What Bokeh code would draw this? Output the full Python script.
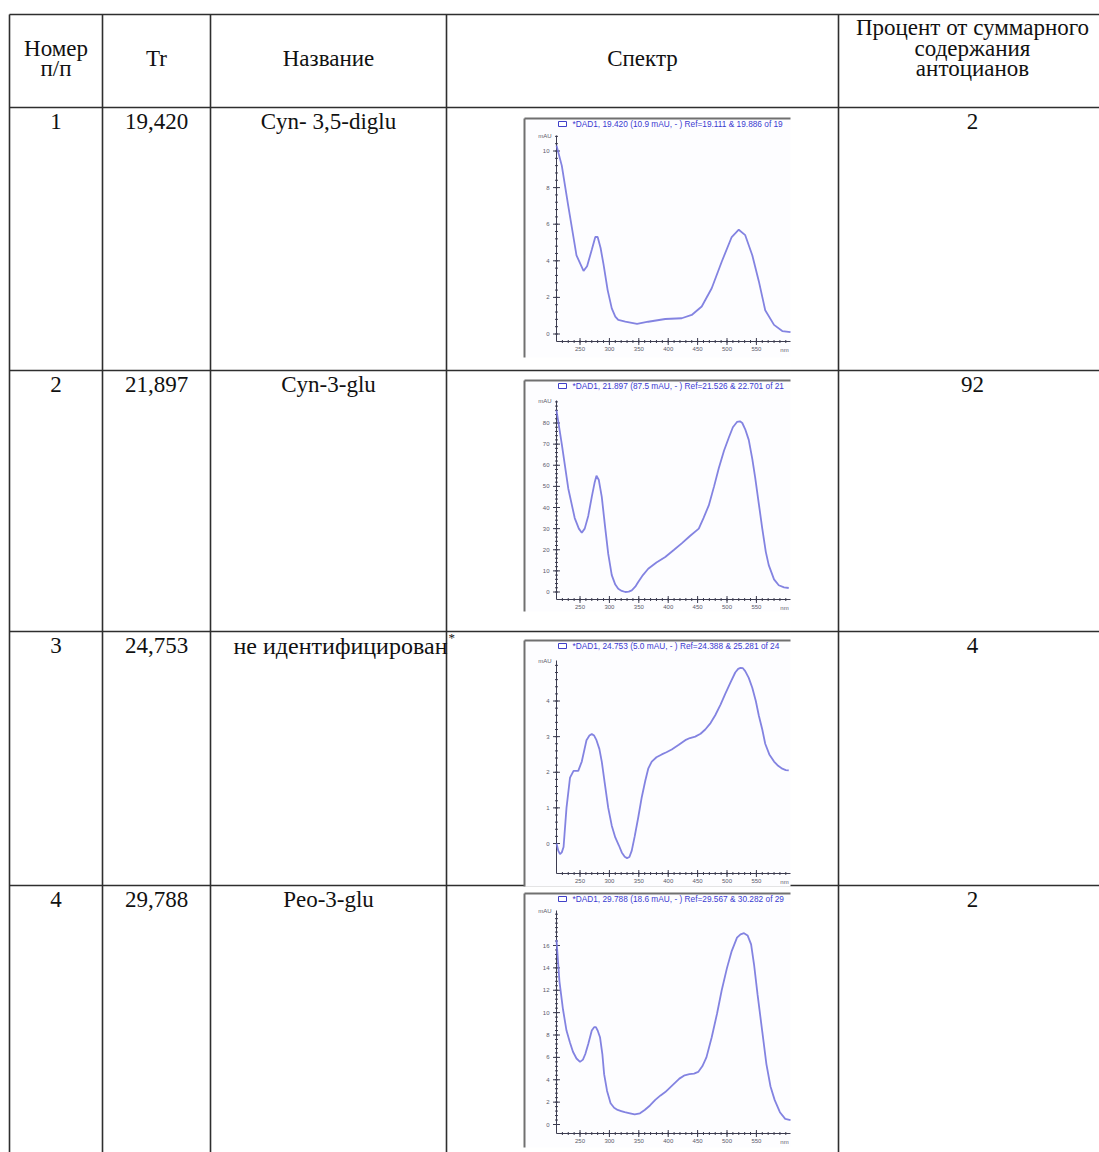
import numpy as np
from bokeh.plotting import figure
from bokeh.models import Range1d
from bokeh.embed import file_html
from bokeh.resources import INLINE
from bokeh.core.properties import value

# ---------------- table content ----------------
headers = ["Номер\nп/п", "Tr", "Название", "Спектр",
           "Процент от суммарного\nсодержания\nантоцианов"]
row_nums = ["1", "2", "3", "4"]
retention = ["19,420", "21,897", "24,753", "29,788"]
names = ["Cyn- 3,5-diglu", "Cyn-3-glu", "не идентифицирован", "Peo-3-glu"]
name_marks = ["", "", "*", ""]
percent = ["2", "92", "4", "2"]

# ---------------- spectra (wavelength nm, absorbance mAU) ----------------
wl1 = [210, 219, 230, 244, 256, 262, 270, 276, 280, 285, 290, 297, 304, 310, 315, 327, 347, 366,
       395, 423, 440, 457, 474, 491, 508, 520, 531, 543, 554, 565, 580, 594, 608]
ab1 = [10.3, 9.2, 7.0, 4.3, 3.45, 3.7, 4.6, 5.3, 5.3, 4.7, 3.8, 2.4, 1.4, 0.95, 0.77, 0.67, 0.55, 0.67,
       0.82, 0.86, 1.04, 1.5, 2.5, 3.95, 5.3, 5.7, 5.4, 4.3, 2.9, 1.3, 0.5, 0.16, 0.1]
yt1 = [0, 2, 4, 6, 8, 10]

wl2 = [210, 219, 230, 241, 248, 253, 258, 264, 270, 275, 278, 282, 287, 293, 298, 304, 310, 315,
       321, 327, 333, 338, 344, 349, 357, 366, 380, 395, 410, 423, 437, 452, 460, 469, 478, 486,
       495, 503, 510, 517, 522, 526, 531, 537, 543, 548, 554, 560, 566, 571, 580, 588, 597, 605]
ab2 = [86, 70, 49, 35, 30, 28, 30, 36, 45, 52, 55, 53, 45, 30, 18, 8, 3.5, 1.5,
       0.5, 0, 0.2, 0.8, 2.5, 4.7, 8, 11, 14, 16.6, 20, 23, 26.5, 30, 35, 41, 50, 58.6,
       67, 73, 78, 80.5, 80.8, 80, 77, 72, 63, 54, 42, 30, 19, 12.7, 6, 3.2, 2.2, 1.9]
yt2 = [0, 10, 20, 30, 40, 50, 60, 70, 80]

wl3 = [210, 213, 216, 219, 222, 227, 233, 239, 247, 253, 261, 266, 270, 274, 278, 283, 287, 292,
       298, 304, 310, 316, 321, 326, 330, 334, 338, 343, 349, 355, 361, 366, 372, 380, 389, 397,
       406, 418, 429, 437, 446, 455, 463, 472, 480, 489, 497, 506, 514, 519, 523, 527, 531, 537,
       543, 549, 554, 560, 565, 572, 580, 587, 594, 600, 605]
ab3 = [0.0, -0.2, -0.3, -0.25, -0.1, 1.0, 1.85, 2.04, 2.04, 2.3, 2.9, 3.03, 3.07, 3.03, 2.9, 2.65, 2.3, 1.7,
       1.0, 0.5, 0.17, -0.05, -0.25, -0.37, -0.41, -0.38, -0.2, 0.2, 0.73, 1.3, 1.76, 2.1, 2.3, 2.42, 2.5, 2.56,
       2.64, 2.77, 2.9, 2.96, 3.0, 3.08, 3.2, 3.38, 3.6, 3.9, 4.2, 4.52, 4.8, 4.9, 4.93, 4.92, 4.84, 4.65,
       4.37, 4.0, 3.6, 3.2, 2.8, 2.5, 2.3, 2.18, 2.1, 2.06, 2.05]
yt3 = [0, 1, 2, 3, 4]

wl4 = [210, 212, 215, 221, 227, 233, 238, 244, 250, 255, 259, 264, 270, 274, 277, 280, 284, 288,
       291, 296, 302, 308, 314, 320, 326, 335, 343, 352, 360, 369, 378, 387, 395, 407, 419, 428,
       436, 444, 451, 458, 465, 474, 483, 491, 500, 508, 517, 523, 529, 535, 541, 546, 552, 560,
       567, 574, 581, 590, 599, 608]
ab4 = [16.5, 15, 12.8, 10.3, 8.4, 7.3, 6.5, 5.9, 5.6, 5.8, 6.3, 7.2, 8.4, 8.7, 8.7, 8.4, 7.8, 6.3,
       4.5, 3.0, 1.9, 1.5, 1.3, 1.2, 1.1, 1.0, 0.9, 1.0, 1.3, 1.7, 2.2, 2.6, 2.9, 3.5, 4.1, 4.4,
       4.5, 4.55, 4.7, 5.2, 6.0, 7.8, 9.9, 12.0, 14.0, 15.5, 16.7, 17.0, 17.1, 16.9, 16.1, 14.3, 11.6, 8.3,
       5.4, 3.4, 2.2, 1.1, 0.5, 0.4]
yt4 = [0, 2, 4, 6, 8, 10, 12, 14, 16]

xt = [250, 300, 350, 400, 450, 500, 550]
spec_titles = ["*DAD1, 19.420 (10.9 mAU, - ) Ref=19.111 & 19.886 of 19",
               "*DAD1, 21.897 (87.5 mAU, - ) Ref=21.526 & 22.701 of 21",
               "*DAD1, 24.753 (5.0 mAU, - ) Ref=24.388 & 25.281 of 24",
               "*DAD1, 29.788 (18.6 mAU, - ) Ref=29.567 & 30.282 of 29"]

spectra = [(wl1, ab1, yt1), (wl2, ab2, yt2), (wl3, ab3, yt3), (wl4, ab4, yt4)]

# ---------------- layout (pixels) ----------------
W, H = 1099, 1152
col_x = [9, 102, 210, 446, 838]
row_y = [14, 107, 370, 631, 885]
col_c = [(col_x[i] + col_x[i + 1]) / 2 for i in range(4)] + [972]

# per spectrum picture: frame (top, bottom), axis extent (top, bottom), pixel rows of first/last tick
frames = [(118, 357), (380, 611), (640, 886), (893, 1147)]
axis_px = [(135, 341), (400, 599), (660, 873), (910, 1133)]
tick_px = [(333.5, 150.5), (591.5, 422.5), (843.0, 700.5), (1124.0, 945.0)]
fx0, fx1 = 524, 790
ax_x0 = 556
wl_lo, wl_hi = 210, 608

SERIF = value("Liberation Serif")
SANS = value("Liberation Sans")

p = figure(width=W, height=H, x_range=Range1d(0, W), y_range=Range1d(H, 0),
           output_backend="svg", toolbar_location=None, min_border=0,
           x_axis_type=None, y_axis_type=None, outline_line_color=None,
           background_fill_color="white", border_fill_color="white")

LINE = "#2e2e2e"
p.segment(x0=[col_x[0]] * len(row_y), y0=row_y, x1=[W] * len(row_y), y1=row_y,
          line_color=LINE, line_width=1.6)
p.segment(x0=col_x, y0=[row_y[0]] * len(col_x), x1=col_x, y1=[H] * len(col_x),
          line_color=LINE, line_width=1.6)

# header texts
hx, hy, ht = [], [], []
for i, h in enumerate(headers):
    lines = h.split("\n")
    n = len(lines)
    for k, ln in enumerate(lines):
        hx.append(col_c[i])
        hy.append(58 if n == 1 else 68 - (n - 1 - k) * 20.5)
        ht.append(ln)
p.text(x=hx, y=hy, text=ht, text_font=SERIF, text_font_size="23px",
       text_align="center", text_baseline="middle", text_color="#111111")

# body texts
bx, by, bt = [], [], []
for r in range(4):
    yc = row_y[r + 1] + 14
    for c, val in [(0, row_nums[r]), (1, retention[r]), (4, percent[r])]:
        bx.append(col_c[c]); by.append(yc); bt.append(val)
    if not name_marks[r]:
        bx.append(col_c[2]); by.append(yc); bt.append(names[r])
p.text(x=bx, y=by, text=bt, text_font=SERIF, text_font_size="23px",
       text_align="center", text_baseline="middle", text_color="#111111")
# the footnoted name is wider than its cell centre allows: left aligned
for r in range(4):
    if name_marks[r]:
        yc = row_y[r + 1] + 14
        p.text(x=[col_x[2] + 23], y=[yc], text=[names[r]], text_font=SERIF,
               text_font_size="24px", text_align="left", text_baseline="middle",
               text_color="#111111")
        p.text(x=[col_x[3] + 2], y=[yc - 8], text=[name_marks[r]], text_font=SERIF,
               text_font_size="13px", text_align="left", text_baseline="middle",
               text_color="#111111")

# spectra
CURVE = "#7676de"
AX = "#3c3c50"
TICK_TXT = "#5a5a6a"
for i, (wl, ab, yt) in enumerate(spectra):
    ftop, fbot = frames[i]
    atop, abot = axis_px[i]
    pa, pb = tick_px[i]
    va, vb = yt[0], yt[-1]
    px2v = lambda pix: va + (pix - pa) * (vb - va) / (pb - pa)
    ylo, yhi = px2v(abot), px2v(atop)

    # image frame
    p.quad(left=[fx0], right=[fx1], top=[ftop], bottom=[fbot],
           fill_color="#fdfdff", line_color=None)
    p.segment(x0=[fx0, fx0], y0=[ftop, ftop], x1=[fx1, fx0], y1=[ftop, fbot],
              line_color="#707070", line_width=2)
    # title with legend icon
    p.quad(left=[558], right=[566], top=[ftop + 3], bottom=[ftop + 8],
           fill_color="white", line_color="#4040c8", line_width=1)
    p.text(x=[572], y=[ftop + 5.5], text=[spec_titles[i]], text_font=SANS,
           text_font_size="8.3px", text_color="#3a3ad0", text_align="left",
           text_baseline="middle")

    xy = p.subplot(x_source=Range1d(wl_lo, wl_hi), y_source=Range1d(va, vb),
                   x_target=Range1d(ax_x0, fx1), y_target=Range1d(pa, pb))
    # axes lines
    xy.segment(x0=[wl_lo, wl_lo], y0=[ylo, ylo], x1=[wl_hi, wl_lo], y1=[ylo, yhi],
               line_color=AX, line_width=1)
    # minor ticks
    ystep = (yt[1] - yt[0]) / 5
    ymin = np.arange(yt[0], yhi, ystep)
    xy.scatter(x=[wl_lo] * len(ymin), y=list(ymin), marker="dash", size=3,
               line_color=AX, line_width=1)
    xmin = np.arange(220, wl_hi, 10)
    xy.scatter(x=list(xmin), y=[ylo] * len(xmin), marker="dash", angle=np.pi / 2,
               size=3, line_color=AX, line_width=1)
    # major ticks
    xy.scatter(x=[wl_lo] * len(yt), y=yt, marker="dash", size=7, line_color=AX, line_width=1)
    xy.scatter(x=xt, y=[ylo] * len(xt), marker="dash", angle=np.pi / 2, size=7,
               line_color=AX, line_width=1)
    # tick labels
    xy.text(x=[wl_lo] * len(yt), y=yt, text=[str(v) for v in yt], x_offset=-7,
            text_font=SANS, text_font_size="6px", text_color=TICK_TXT,
            text_align="right", text_baseline="middle")
    xy.text(x=xt, y=[ylo] * len(xt), text=[str(v) for v in xt], y_offset=5,
            text_font=SANS, text_font_size="6px", text_color=TICK_TXT,
            text_align="center", text_baseline="top")
    xy.text(x=[wl_lo], y=[yhi], text=["mAU"], x_offset=-5, text_font=SANS,
            text_font_size="6px", text_color=TICK_TXT, text_align="right",
            text_baseline="middle")
    xy.text(x=[wl_hi], y=[ylo], text=["nm"], x_offset=-6, y_offset=5, text_font=SANS,
            text_font_size="6px", text_color=TICK_TXT, text_align="center",
            text_baseline="top")
    # the spectrum
    xy.line(x=wl, y=ab, line_color=CURVE, line_width=1.8, line_alpha=0.9)

open("out.html", "w").write(file_html(p, INLINE, title="Антоцианы"))
